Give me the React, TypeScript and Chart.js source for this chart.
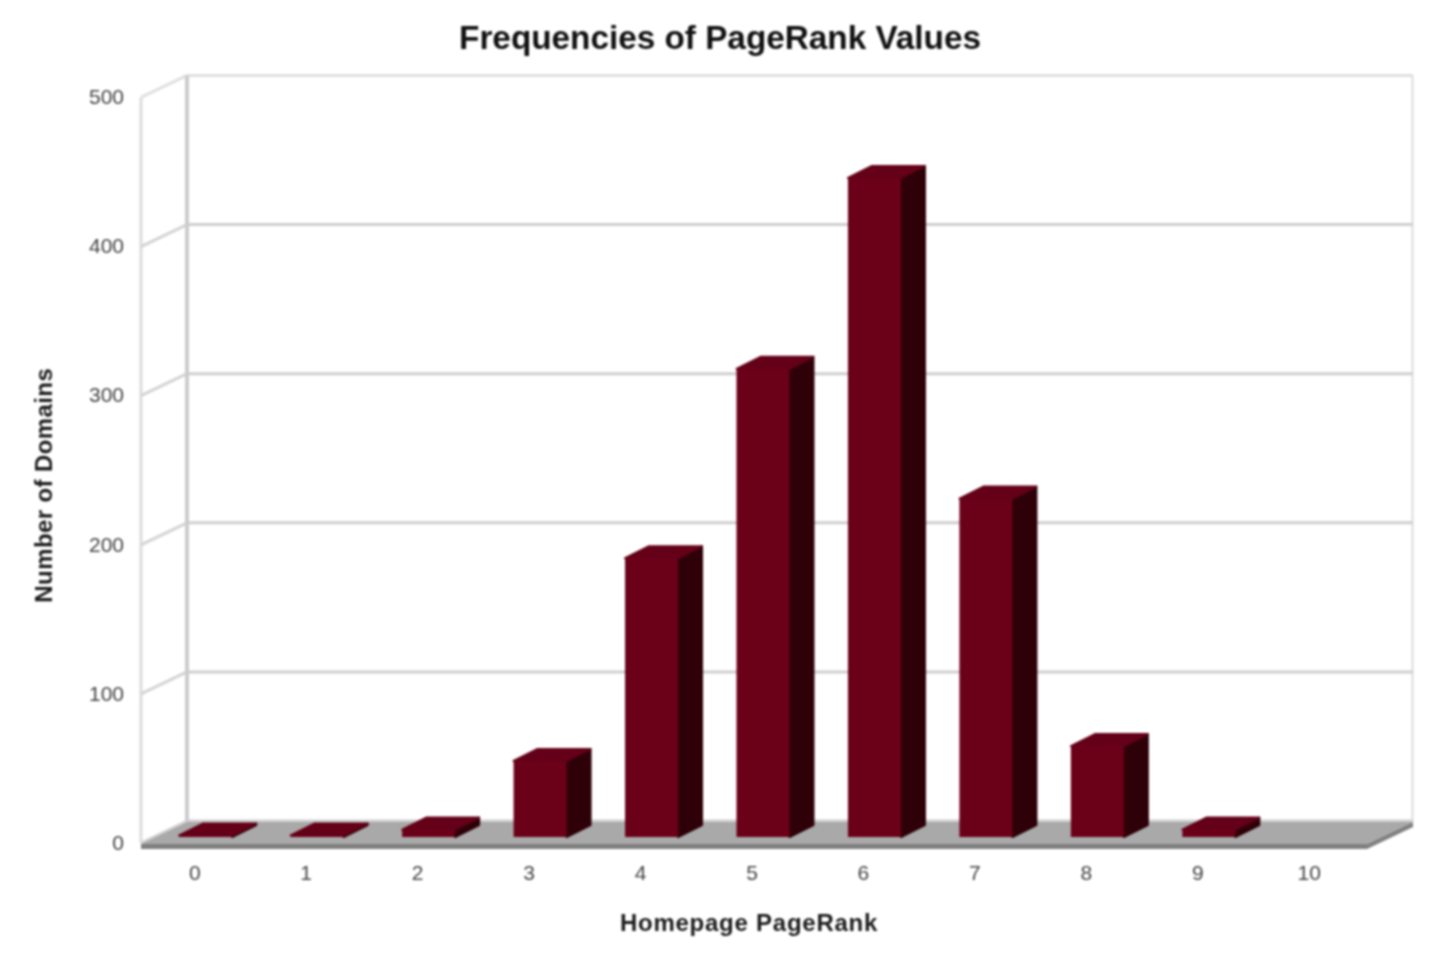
import React, { useEffect, useRef } from "react";
import { Chart, registerables } from "chart.js";

Chart.register(...registerables);

const chartTitle = "Frequencies of PageRank Values";
const xTitle = "Homepage PageRank";
const yTitle = "Number of Domains";
const categories = ["0", "1", "2", "3", "4", "5", "6", "7", "8", "9", "10"];
const domainCounts = [1, 1, 5, 51, 187, 314, 442, 227, 61, 5, 0];

const WALL_DX = 46;
const WALL_DY = 22;
const BAR_DX = 24;
const BAR_DY = 12;
const BAR_SHIFT_X = 9;
const BAR_SHIFT_Y = 6;
const FRONT = "#6b0019";
const TOP = "#640018";
const SIDE = "#2e0008";

function poly(ctx: CanvasRenderingContext2D, pts: number[][], fill: string, soft = 0) {
  ctx.beginPath();
  pts.forEach(([x, y], i) => (i ? ctx.lineTo(x, y) : ctx.moveTo(x, y)));
  ctx.closePath();
  ctx.fillStyle = fill;
  ctx.fill();
  if (soft) {
    ctx.strokeStyle = fill;
    ctx.lineWidth = soft;
    ctx.lineJoin = "round";
    ctx.stroke();
  }
}

function seg(ctx: CanvasRenderingContext2D, x1: number, y1: number, x2: number, y2: number, color: string, w: number) {
  ctx.beginPath();
  ctx.moveTo(x1, y1);
  ctx.lineTo(x2, y2);
  ctx.strokeStyle = color;
  ctx.lineWidth = w;
  ctx.stroke();
}

const walls3d = {
  id: "walls3d",
  beforeDatasetsDraw(chart: any) {
    const { ctx, chartArea: a, scales } = chart;
    const y = scales.y;
    const bx = a.left + WALL_DX;
    const rx = a.right + WALL_DX;
    ctx.save();
    ctx.lineCap = "butt";
    seg(ctx, a.left, a.top, a.left, a.bottom, "#dcdcdc", 3);
    seg(ctx, rx - 0.5, a.top - WALL_DY, rx - 0.5, a.bottom - WALL_DY, "#dcdcdc", 2);
    y.ticks.forEach((t: any) => {
      const py = y.getPixelForValue(t.value);
      const top = t.value === 500;
      seg(ctx, a.left, py, bx, py - WALL_DY, top ? "#e0e0e0" : "#d4d4d4", 3);
      seg(ctx, bx, py - WALL_DY, rx, py - WALL_DY, top ? "#e0e0e0" : "#cfcfcf", 3);
    });
    seg(ctx, bx, a.top - WALL_DY, bx, a.bottom - WALL_DY, "#cccccc", 4);
    // floor
    const f = a.bottom + 1;
    poly(ctx, [[a.left, f], [bx, f - WALL_DY], [rx, f - WALL_DY], [a.right, f]], "#a9a9a9");
    poly(ctx, [[a.left, f], [a.right, f], [a.right, f + 5], [a.left, f + 5]], "#808080");
    poly(ctx, [[a.right, f], [rx, f - WALL_DY], [rx, f - WALL_DY + 5], [a.right, f + 5]], "#808080");
    ctx.restore();
    // bars stand mid-way in the depth of the floor
    ctx.save();
    ctx.translate(BAR_SHIFT_X, -BAR_SHIFT_Y);
    chart.getDatasetMeta(0).data.forEach((bar: any, i: number) => {
      if (!domainCounts[i]) return;
      const { x, y: vy, base, width } = bar.getProps(["x", "y", "base", "width"], true);
      const l = x - width / 2;
      const r = x + width / 2;
      poly(ctx, [[r, vy], [r + BAR_DX, vy - BAR_DY], [r + BAR_DX, base - BAR_DY], [r, base]], SIDE, 2);
      poly(ctx, [[l, vy], [l + BAR_DX, vy - BAR_DY], [r + BAR_DX, vy - BAR_DY], [r, vy]], TOP, 2);
    });
  },
  afterDatasetsDraw(chart: any) {
    chart.ctx.restore();
  },
};

const textTweaks = {
  id: "textTweaks",
  afterLayout(chart: any) {
    // centre the chart title on the whole canvas, not the padded box
    const t = chart.titleBlock;
    if (t) {
      t.left = 0;
      t.right = chart.width;
      t.width = chart.width;
    }
  },
  beforeDraw(chart: any) {
    const shift = (s: any, dx: number, dy: number, spacing: string) => {
      if (s.__shifted) return;
      s.__shifted = true;
      const orig = s.drawTitle.bind(s);
      s.drawTitle = () => {
        s.ctx.save();
        s.ctx.translate(dx, dy);
        s.ctx.letterSpacing = spacing;
        orig();
        s.ctx.restore();
      };
    };
    shift(chart.scales.x, -5, 0, "0.75px");
    shift(chart.scales.y, 0, 15, "0.4px");
  },
};

export default function App() {
  const ref = useRef<HTMLCanvasElement | null>(null);
  useEffect(() => {
    const chart = new Chart(ref.current as HTMLCanvasElement, {
      type: "bar",
      data: {
        labels: categories,
        datasets: [
          {
            label: "Number of Domains",
            data: domainCounts,
            backgroundColor: FRONT,
            borderWidth: 0,
            barPercentage: 0.4755,
            categoryPercentage: 1,
            clip: false as any,
          },
        ],
      },
      plugins: [walls3d, textTweaks],
      options: {
        animation: false,
        responsive: false,
        devicePixelRatio: 1,
        layout: { padding: { left: 0, top: 0, right: 73, bottom: 0 } },
        plugins: {
          legend: { display: false },
          tooltip: { enabled: false },
          title: {
            display: true,
            text: chartTitle,
            color: "#111111",
            font: { family: "Liberation Sans", size: 33.3, weight: "bold", lineHeight: 1.2 },
            padding: { top: 20, bottom: 37.5 },
          },
        },
        scales: {
          x: {
            grid: { display: false, drawTicks: false },
            border: { display: false },
            ticks: {
              color: "#444444",
              font: { family: "Liberation Sans", size: 21 },
              padding: 19,
              labelOffset: -2,
              maxRotation: 0,
            },
            title: {
              display: true,
              text: xTitle,
              color: "#1c1c1c",
              font: { family: "Liberation Sans", size: 24, weight: "bold", lineHeight: 1.2 },
              padding: { top: 0, bottom: 20 },
            },
            afterFit(s: any) {
              s.height = 116;
            },
          },
          y: {
            min: 0,
            max: 500,
            grid: { display: false, drawTicks: false },
            border: { display: false },
            ticks: {
              stepSize: 100,
              color: "#444444",
              font: { family: "Liberation Sans", size: 21 },
              padding: 17,
              labelOffset: 1,
            },
            title: {
              display: true,
              text: yTitle,
              color: "#1c1c1c",
              font: { family: "Liberation Sans", size: 24, weight: "bold", lineHeight: 1.2 },
              padding: { top: 31, bottom: 0 },
            },
            afterFit(s: any) {
              s.width = 141;
            },
          },
        },
      },
    });
    return () => chart.destroy();
  }, []);
  return (
    <canvas
      ref={ref}
      width={1440}
      height={959}
      style={{ position: "absolute", left: 0, top: 0, width: 1440, height: 959, filter: "blur(1px)" }}
    />
  );
}
